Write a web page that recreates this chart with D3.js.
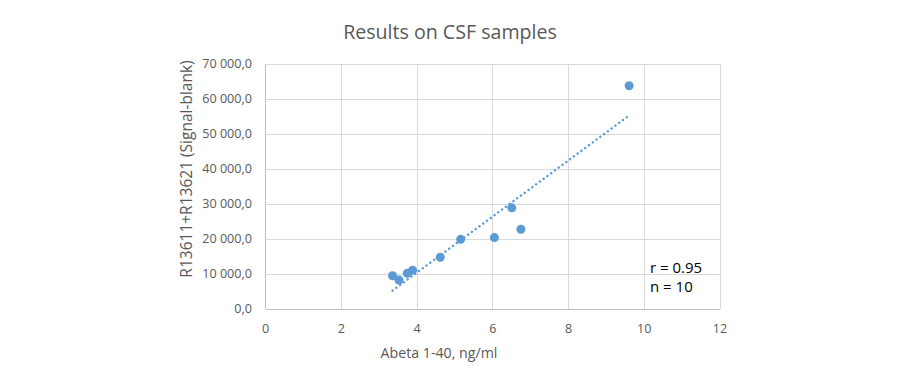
<!DOCTYPE html>
<html><head><meta charset="utf-8">
<script src="https://cdn.jsdelivr.net/npm/d3@7"></script>
<style>body{margin:0;background:#fff;} text{font-family:"Open Sans","Noto Sans",sans-serif;}</style>
</head><body>
<svg id="c" width="900" height="383"></svg>
<script>
const abeta = [3.35, 3.52, 3.74, 3.88, 4.61, 5.15, 6.04, 6.50, 6.74, 9.60];
const signal = [9500, 8300, 10200, 11100, 14800, 19900, 20400, 28900, 22800, 63800];
const xTicks = [0, 2, 4, 6, 8, 10, 12];
const yTicks = [0, 10000, 20000, 30000, 40000, 50000, 60000, 70000];
const title = "Results on CSF samples";
const xTitle = "Abeta 1-40, ng/ml";
const yTitle = "R13611+R13621 (Signal-blank)";
const notes = ["r = 0.95", "n = 10"];

const svg = d3.select("#c");
const m = {l: 265.7, r: 720, t: 64, b: 309};
const x = d3.scaleLinear().domain([0, 12]).range([m.l, m.r]);
const y = d3.scaleLinear().domain([0, 70000]).range([m.b, m.t]);
const fmt = v => { const s = d3.format(",.1f")(v); return s.replace(/,/g, " ").replace(".", ","); };

// gridlines
svg.append("g").selectAll("line").data(yTicks).join("line")
  .attr("x1", m.l).attr("x2", m.r).attr("y1", d => y(d)).attr("y2", d => y(d))
  .attr("stroke", "#d9d9d9").attr("stroke-width", 1).attr("shape-rendering", "crispEdges");
svg.append("g").selectAll("line").data(xTicks).join("line")
  .attr("y1", m.t).attr("y2", m.b).attr("x1", d => x(d)).attr("x2", d => x(d))
  .attr("stroke", "#d9d9d9").attr("stroke-width", 1).attr("shape-rendering", "crispEdges");
// axis lines
svg.append("line").attr("x1", m.l).attr("x2", m.r).attr("y1", y(0)).attr("y2", y(0)).attr("stroke", "#bfbfbf").attr("shape-rendering", "crispEdges");
svg.append("line").attr("x1", x(0)).attr("x2", x(0)).attr("y1", m.t).attr("y2", m.b).attr("stroke", "#bfbfbf").attr("shape-rendering", "crispEdges");

// tick labels
svg.append("g").selectAll("text").data(yTicks).join("text")
  .attr("x", 252).attr("y", d => y(d)).attr("dy", "0.35em").attr("text-anchor", "end")
  .attr("font-size", 12.6).attr("fill", "#595959").text(fmt);
svg.append("g").selectAll("text").data(xTicks).join("text")
  .attr("x", d => x(d)).attr("y", 329).attr("dy", "0.35em").attr("text-anchor", "middle")
  .attr("font-size", 12.6).attr("fill", "#595959").text(d => d);

// titles
svg.append("text").attr("x", 450).attr("y", 32).attr("dy", "0.35em").attr("text-anchor", "middle")
  .attr("font-size", 19.6).attr("fill", "#595959").text(title);
svg.append("text").attr("x", 439).attr("y", 353).attr("dy", "0.35em").attr("text-anchor", "middle")
  .attr("font-size", 14.2).attr("fill", "#595959").text(xTitle);
svg.append("text").attr("transform", "translate(187,169) rotate(-90)").attr("dy", "0.35em").attr("text-anchor", "middle")
  .attr("font-size", 15.5).attr("fill", "#595959").text(yTitle);

// trendline (least squares)
const mx = d3.mean(abeta), my = d3.mean(signal);
const sxy = d3.sum(abeta, (v, i) => (v - mx) * (signal[i] - my));
const sxx = d3.sum(abeta, v => (v - mx) ** 2);
const slope = sxy / sxx, icpt = my - slope * mx;
const ext = d3.extent(abeta);
svg.append("line")
  .attr("x1", x(ext[0])).attr("y1", y(icpt + slope * ext[0]))
  .attr("x2", x(ext[1])).attr("y2", y(icpt + slope * ext[1]))
  .attr("stroke", "#5b9bd5").attr("stroke-width", 2.4).attr("stroke-dasharray", "0.1,4.6")
  .attr("stroke-linecap", "round");

// points
svg.append("g").selectAll("circle").data(abeta).join("circle")
  .attr("cx", d => x(d)).attr("cy", (d, i) => y(signal[i])).attr("r", 4.5)
  .attr("fill", "#5b9bd5");

// notes
svg.append("g").selectAll("text").data(notes).join("text")
  .attr("x", 650).attr("y", (d, i) => 268 + i * 19).attr("dy", "0.35em")
  .attr("font-size", 15).attr("fill", "#000").text(d => d);
</script>
</body></html>
